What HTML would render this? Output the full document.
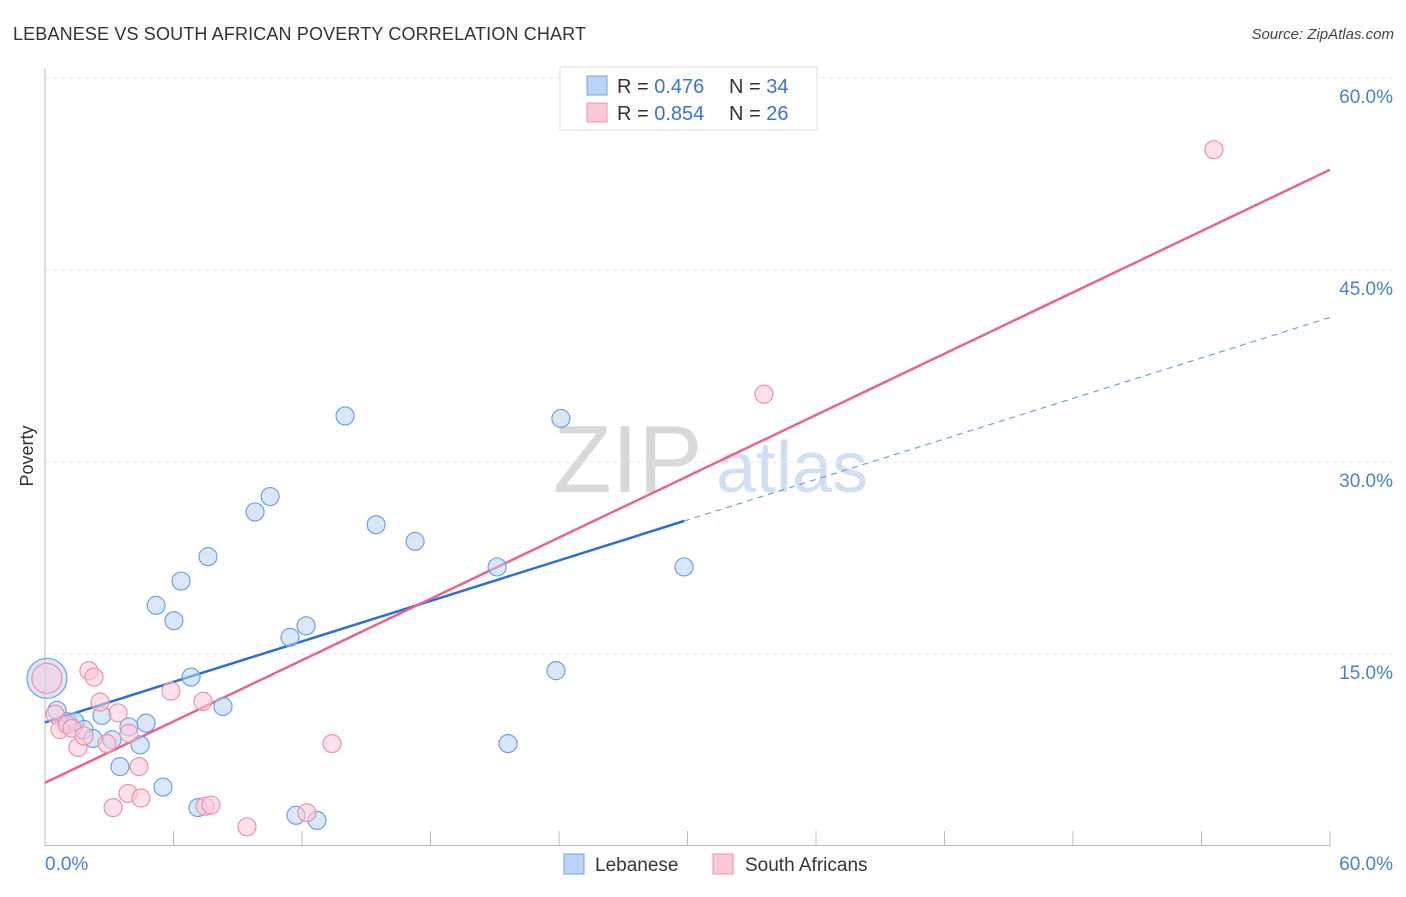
<!DOCTYPE html>
<html><head><meta charset="utf-8">
<style>
body{margin:0;background:#fff;font-family:"Liberation Sans",sans-serif;}
svg text{font-family:"Liberation Sans",sans-serif;}
</style></head>
<body>
<svg id="chart" width="1406" height="892" xmlns="http://www.w3.org/2000/svg">
<text x="13" y="40" font-size="18" fill="#333" textLength="573">LEBANESE VS SOUTH AFRICAN POVERTY CORRELATION CHART</text>
<text x="1394" y="39" font-size="15" fill="#444" text-anchor="end" font-style="italic">Source: ZipAtlas.com</text>
<g>
<text x="553" y="492" font-size="96" fill="#d8d8d8" font-family="Liberation Serif, serif">ZIP</text>
<text x="716" y="492" font-size="72" fill="#cfe0f4">atlas</text>
</g>
<g id="grid"></g>
<g id="axes"></g>
<g id="lines"></g>
<g id="points"></g>
<text transform="translate(33,456) rotate(-90)" font-size="18" fill="#333" text-anchor="middle">Poverty</text>
<g>
<rect x="560" y="67" width="257" height="63" fill="#fff" stroke="#ddd"/>
<rect x="587" y="76" width="20" height="19" fill="#b9d4f6" stroke="#6fa0e6"/>
<rect x="587" y="103" width="20" height="19" fill="#fdc8d6" stroke="#ee90ac"/>
<text x="617" y="93" font-size="20" fill="#333">R = <tspan fill="#3a72d8">0.476</tspan></text>
<text x="729" y="93" font-size="20" fill="#333">N = <tspan fill="#3a72d8">34</tspan></text>
<text x="617" y="120" font-size="20" fill="#333">R = <tspan fill="#3a72d8">0.854</tspan></text>
<text x="729" y="120" font-size="20" fill="#333">N = <tspan fill="#3a72d8">26</tspan></text>
</g>
<g>
<rect x="564" y="854" width="20" height="20" fill="#b9d4f6" stroke="#6fa0e6"/>
<text x="595" y="871" font-size="19" fill="#333">Lebanese</text>
<rect x="713" y="854" width="20" height="20" fill="#fdc8d6" stroke="#ee90ac"/>
<text x="745" y="871" font-size="19" fill="#333">South Africans</text>
</g>
</svg>
<script>
const yTicks=[15,30,45,60];
const yTickLabels=["15.0%","30.0%","45.0%","60.0%"];
const xTickLabels=["0.0%","60.0%"];
const lebX=[0.09,0.56,1.07,1.40,1.82,2.24,2.66,3.13,3.50,3.92,4.44,4.72,5.19,5.51,6.02,6.35,6.82,7.14,7.61,8.31,9.81,10.51,11.44,11.72,12.19,12.70,14.01,15.46,17.28,21.11,21.62,23.86,24.09,29.84];
const lebY=[13.1,10.6,9.7,9.7,9.1,8.4,10.2,8.3,6.2,9.3,7.9,9.6,18.8,4.6,17.6,20.7,13.2,3.0,22.6,10.9,26.1,27.3,16.3,2.4,17.2,2.0,33.6,25.1,23.8,21.8,8.0,13.7,33.4,21.8];
const saX=[0.09,0.47,0.70,1.03,1.26,1.54,1.82,2.05,2.29,2.57,2.89,3.18,3.41,3.88,3.92,4.39,4.48,5.88,7.38,7.47,7.75,9.43,12.23,13.40,33.57,54.58];
const saY=[13.1,10.3,9.1,9.5,9.2,7.7,8.6,13.7,13.2,11.25,8.0,3.0,10.4,4.1,8.8,6.2,3.75,12.1,11.3,3.1,3.2,1.5,2.6,8.0,35.3,54.4];
const NS="http://www.w3.org/2000/svg";
const X=v=>45+v/60*1285, Y=v=>846-v/15*192;
function mk(t,a,p){const e=document.createElementNS(NS,t);for(const k in a)e.setAttribute(k,a[k]);p.appendChild(e);return e;}
const grid=document.getElementById('grid'),axes=document.getElementById('axes'),lines=document.getElementById('lines'),pts=document.getElementById('points');
yTicks.forEach((t,i)=>{
 const l=mk('line',{x1:45,x2:1393,y1:Y(t),y2:Y(t),stroke:'#e4e4e4','stroke-dasharray':'4,4'},grid);
 
 
 const tx=mk('text',{x:1393,y:Y(t)+25,'font-size':19,fill:'#4a7fd8','text-anchor':'end'},axes);
 tx.textContent=yTickLabels[i];
 
 
});
mk('line',{x1:45,x2:45,y1:68,y2:846,stroke:'#bbb'},axes);
mk('line',{x1:45,x2:1330,y1:845.5,y2:845.5,stroke:'#bbb'},axes);
for(let i=1;i<=10;i++){const l=mk('line',{x1:X(i*6),x2:X(i*6),y1:831,y2:846,stroke:'#bbb'},axes);
 
 }
[[0,'start',45],[1,'end',1393]].forEach(([i,a,x])=>{const t=mk('text',{x:x,y:870,'font-size':19,fill:'#4a7fd8','text-anchor':a},axes);t.textContent=xTickLabels[i];
 
 });
function fit(xs,ys){const n=xs.length;let mx=0,my=0;for(let i=0;i<n;i++){mx+=xs[i];my+=ys[i];}mx/=n;my/=n;let sxy=0,sxx=0;for(let i=0;i<n;i++){sxy+=(xs[i]-mx)*(ys[i]-my);sxx+=(xs[i]-mx)**2;}const b=sxy/sxx;return[my-b*mx,b];}
function pointsOf(xs,ys,fill,stroke,name,bigR){xs.forEach((x,i)=>{const c=mk('circle',{cx:X(x),cy:Y(ys[i]),r:i===0?bigR:9,fill:fill,'fill-opacity':0.55,stroke:stroke,'stroke-width':1.2},pts);
 
 });}
pointsOf(lebX,lebY,'#b9d4f6','#6fa0e6','lebanese-point',20);
pointsOf(saX,saY,'#fdc8d6','#ee90ac','south-african-point',15);
const [a1,b1]=fit(lebX,lebY),[a2,b2]=fit(saX,saY);
const mxL=Math.max(...lebX);
let l1=mk('line',{x1:X(0),y1:Y(a1),x2:X(mxL),y2:Y(a1+b1*mxL),stroke:'#2a6fd6','stroke-width':2.5},lines);


let l1d=mk('line',{x1:X(mxL),y1:Y(a1+b1*mxL),x2:X(60),y2:Y(a1+b1*60),stroke:'#6f9fe0','stroke-width':1.2,'stroke-dasharray':'6,5'},lines);


let l2=mk('line',{x1:X(0),y1:Y(a2),x2:X(60),y2:Y(a2+b2*60),stroke:'#e8648f','stroke-width':2.5},lines);


</script>
</body></html>
